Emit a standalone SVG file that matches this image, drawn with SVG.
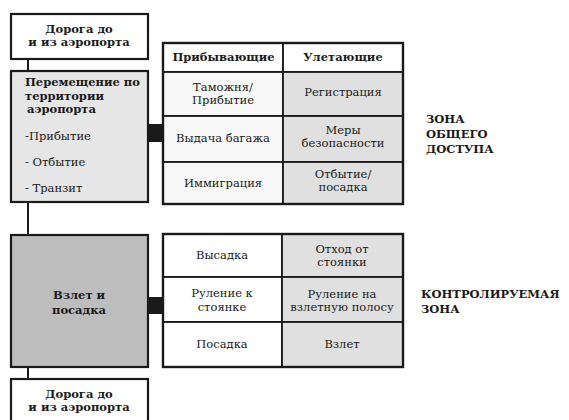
<svg xmlns="http://www.w3.org/2000/svg" width="569" height="420" viewBox="0 0 569 420">
<style>
text{font-family:"DejaVu Serif","Liberation Serif",serif;font-size:11.5px;fill:#1a1a1a}
.b{font-weight:bold}
.c{text-anchor:middle}
.z{font-weight:bold;font-size:11.5px}
.box{stroke:#1a1a1a;stroke-width:2.2}
.cell{stroke:#1a1a1a;stroke-width:1.8}
.lt{fill:#f8f8f8}
.dk{fill:#e0e0e0}
.wh{fill:#ffffff}
</style>
<rect width="569" height="420" fill="#ffffff"/>
<g id="connectors" stroke="#1a1a1a">
<line x1="28" y1="59" x2="28" y2="71" stroke-width="2"/>
<line x1="28" y1="202" x2="28" y2="235" stroke-width="2"/>
<line x1="28" y1="367" x2="28" y2="379" stroke-width="2"/>
<rect x="148" y="124" width="15" height="18" fill="#1a1a1a" stroke="none"/>
<rect x="148" y="297" width="15" height="17" fill="#1a1a1a" stroke="none"/>
</g>
<g id="road-top">
<rect class="box" x="11" y="14" width="137" height="45" fill="#ffffff"/>
<text class="b c" x="79" y="32.5">Дорога до</text>
<text class="b c" x="79" y="46">и из аэропорта</text>
</g>
<g id="movement">
<rect class="box" x="11" y="71" width="137" height="131" fill="#e6e6e6"/>
<text class="b" x="25" y="86">Перемещение по</text>
<text class="b" x="25" y="99.5">территории</text>
<text class="b" x="27" y="113">аэропорта</text>
<text x="25" y="140">-Прибытие</text>
<text x="25" y="166">- Отбытие</text>
<text x="25" y="192">- Транзит</text>
</g>
<g id="takeoff-landing">
<rect class="box" x="11" y="235" width="137" height="132" fill="#bdbdbd"/>
<text class="b c" x="79" y="299">Взлет и</text>
<text class="b c" x="79" y="314">посадка</text>
</g>
<g id="road-bottom">
<rect class="box" x="11" y="379" width="137" height="50" fill="#ffffff"/>
<text class="b c" x="79" y="397.5">Дорога до</text>
<text class="b c" x="79" y="411">и из аэропорта</text>
</g>
<g id="table-public">
<rect class="cell wh" x="163" y="43" width="120" height="29"/>
<rect class="cell wh" x="283" y="43" width="120" height="29"/>
<rect class="cell lt" x="163" y="72" width="120" height="44"/>
<rect class="cell dk" x="283" y="72" width="120" height="44"/>
<rect class="cell lt" x="163" y="116" width="120" height="46"/>
<rect class="cell dk" x="283" y="116" width="120" height="46"/>
<rect class="cell lt" x="163" y="162" width="120" height="42"/>
<rect class="cell dk" x="283" y="162" width="120" height="42"/>
<rect x="163" y="43" width="240" height="161" fill="none" stroke="#1a1a1a" stroke-width="2.4"/>
<text class="b c" x="223.5" y="61">Прибывающие</text>
<text class="b c" x="343" y="61">Улетающие</text>
<text class="c" x="223" y="90.5">Таможня/</text>
<text class="c" x="223" y="104">Прибытие</text>
<text class="c" x="343" y="96">Регистрация</text>
<text class="c" x="223" y="142">Выдача багажа</text>
<text class="c" x="343" y="133.5">Меры</text>
<text class="c" x="343" y="147">безопасности</text>
<text class="c" x="223" y="187">Иммиграция</text>
<text class="c" x="343" y="177.5">Отбытие/</text>
<text class="c" x="343" y="191">посадка</text>
</g>
<g id="table-controlled">
<rect class="cell wh" x="163" y="234" width="119" height="43"/>
<rect class="cell dk" x="282" y="234" width="121" height="43"/>
<rect class="cell wh" x="163" y="277" width="119" height="45"/>
<rect class="cell dk" x="282" y="277" width="121" height="45"/>
<rect class="cell wh" x="163" y="322" width="119" height="45"/>
<rect class="cell dk" x="282" y="322" width="121" height="45"/>
<rect x="163" y="234" width="240" height="133" fill="none" stroke="#1a1a1a" stroke-width="2.4"/>
<text class="c" x="222" y="259">Высадка</text>
<text class="c" x="342" y="252.5">Отход от</text>
<text class="c" x="342" y="266">стоянки</text>
<text class="c" x="222" y="297">Руление к</text>
<text class="c" x="222" y="310.5">стоянке</text>
<text class="c" x="342" y="297.5">Руление на</text>
<text class="c" x="342" y="311">взлетную полосу</text>
<text class="c" x="222" y="348">Посадка</text>
<text class="c" x="342" y="348">Взлет</text>
</g>
<g id="zone-labels">
<text class="z" x="426" y="123">ЗОНА</text>
<text class="z" x="426" y="138">ОБЩЕГО</text>
<text class="z" x="426" y="153">ДОСТУПА</text>
<text class="z" x="421" y="298">КОНТРОЛИРУЕМАЯ</text>
<text class="z" x="421" y="313">ЗОНА</text>
</g>
</svg>
